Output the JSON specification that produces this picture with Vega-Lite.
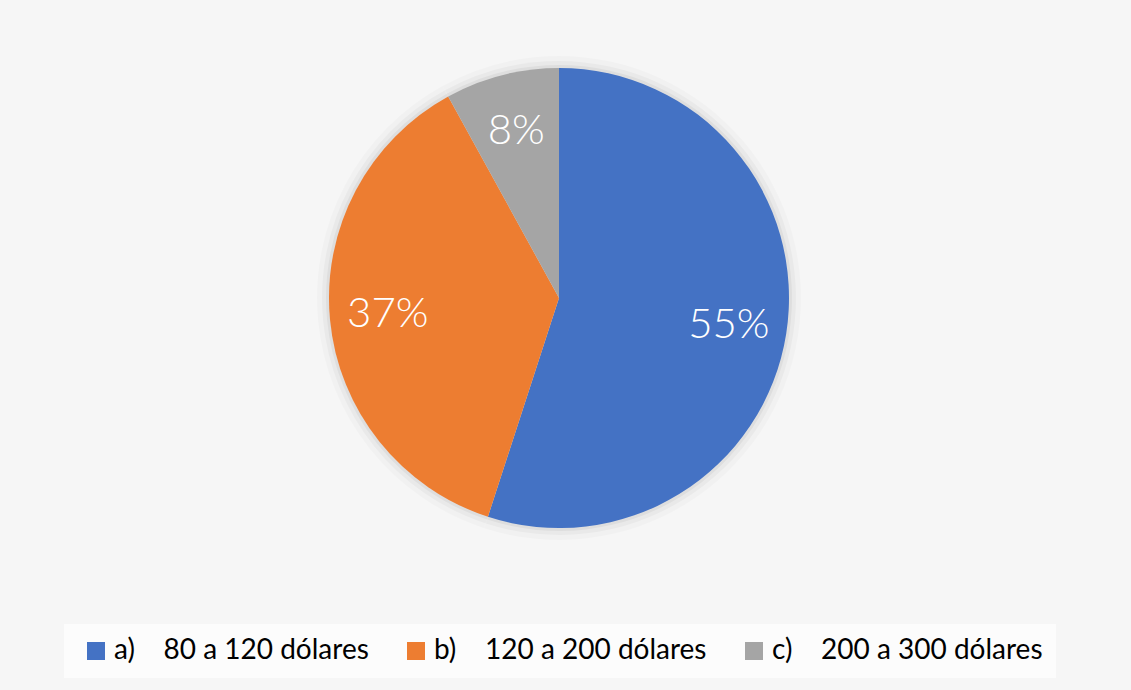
{
  "$schema": "https://vega.github.io/schema/vega-lite/v6.json",
  "width": 1118,
  "height": 596,
  "padding": {"left": 0, "top": 0, "right": 13, "bottom": 12},
  "autosize": {"type": "pad"},
  "background": "#f6f6f6",
  "config": {"view": {"stroke": null}},
  "data": {
    "values": [
      {"rango": "a)\u00a0\u00a0\u00a0\u00a080 a 120 dólares", "valor": 55, "etiqueta": "55%", "orden": 1},
      {"rango": "b)\u00a0\u00a0\u00a0\u00a0120 a 200 dólares", "valor": 37, "etiqueta": "37%", "orden": 2},
      {"rango": "c)\u00a0\u00a0\u00a0\u00a0200 a 300 dólares", "valor": 8, "etiqueta": "8%", "orden": 3}
    ]
  },
  "encoding": {
    "theta": {"field": "valor", "type": "quantitative", "stack": true},
    "order": {"field": "orden", "type": "ordinal"}
  },
  "layer": [
    {"mark": {"type": "arc", "outerRadius": 242, "fill": "#000000", "opacity": 0.02}},
    {"mark": {"type": "arc", "outerRadius": 237, "fill": "#000000", "opacity": 0.03}},
    {"mark": {"type": "arc", "outerRadius": 233, "fill": "#000000", "opacity": 0.045}},
    {
      "mark": {"type": "arc", "outerRadius": 230},
      "encoding": {
        "color": {
          "field": "rango",
          "type": "nominal",
          "sort": null,
          "scale": {
            "domain": ["a)\u00a0\u00a0\u00a0\u00a080 a 120 dólares", "b)\u00a0\u00a0\u00a0\u00a0120 a 200 dólares", "c)\u00a0\u00a0\u00a0\u00a0200 a 300 dólares"],
            "range": ["#4472c4", "#ed7d31", "#a5a5a5"]
          },
          "legend": {
            "orient": "none",
            "legendX": 64,
            "legendY": 624,
            "direction": "horizontal",
            "columns": 3,
            "title": null,
            "fillColor": "#fcfcfc",
            "padding": 13,
            "labelFont": "Lato",
            "labelFontSize": 28,
            "labelColor": "#000000",
            "labelLimit": 0,
            "labelOffset": 4,
            "symbolType": "square",
            "symbolSize": 324,
            "symbolStrokeWidth": 0,
            "symbolOffset": 5,
            "columnPadding": 28,
            "gridAlign": "none"
          }
        }
      }
    },
    {
      "mark": {"type": "text", "radius": 172, "fontSize": 42, "font": "Lato", "fontWeight": 300, "fill": "#ffffff", "baseline": "middle", "align": "center"},
      "encoding": {"text": {"field": "etiqueta", "type": "nominal"}}
    }
  ]
}
